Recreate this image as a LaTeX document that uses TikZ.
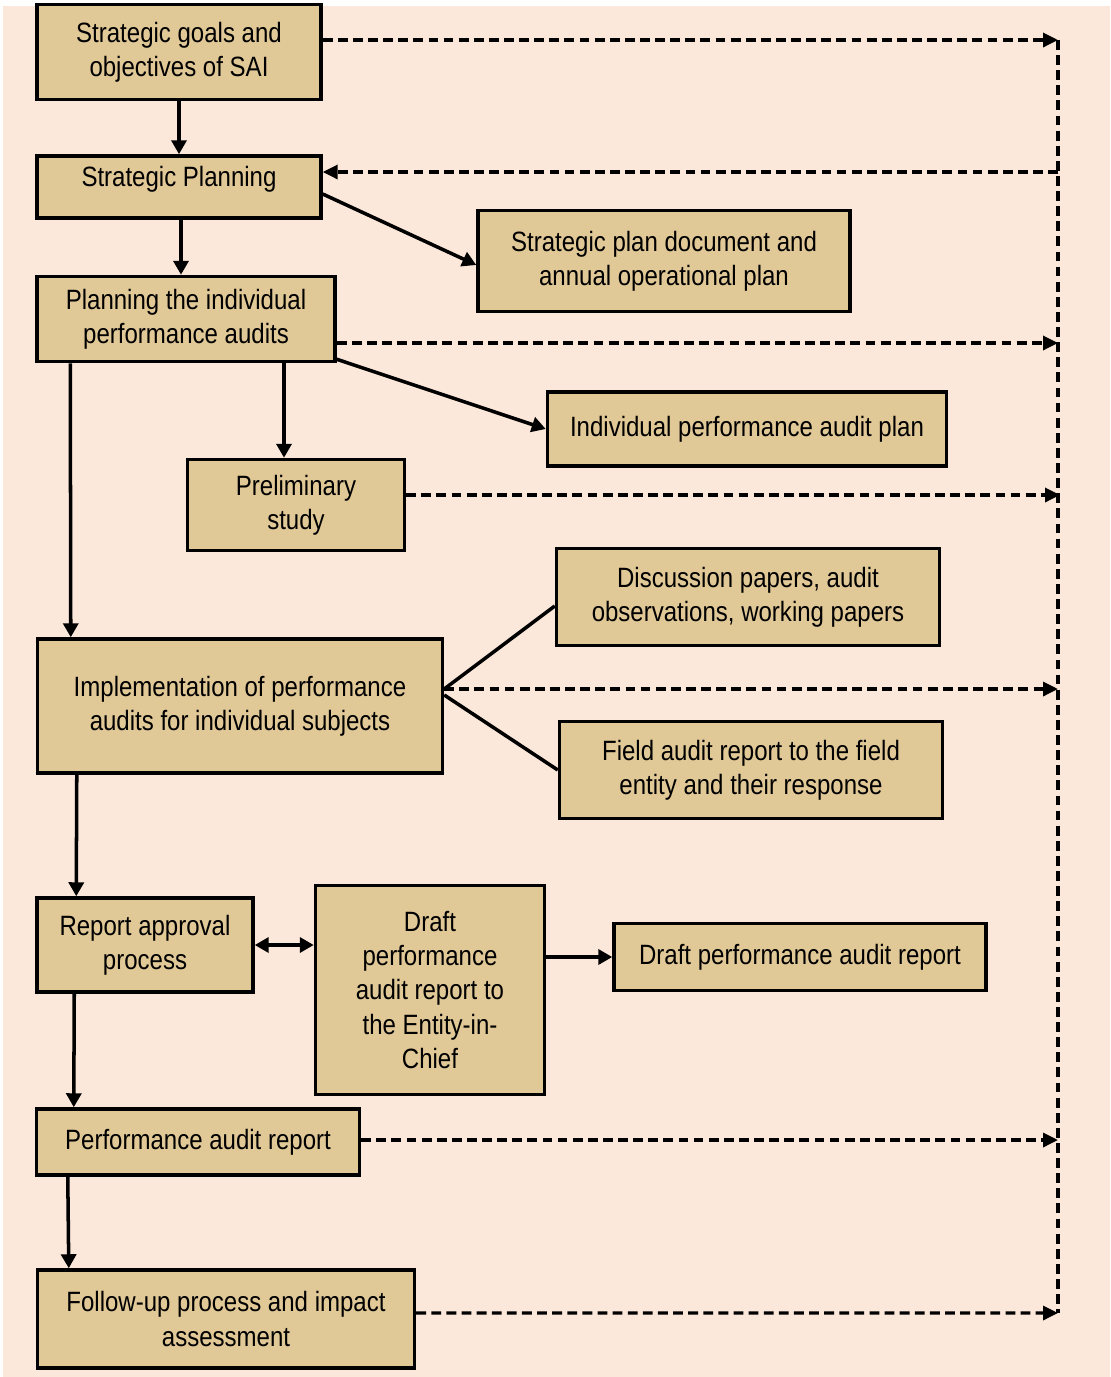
\documentclass[tikz,border=0pt]{standalone}
\usepackage{fontspec}
\setmainfont{Liberation Sans}[FakeStretch=0.86]
\usetikzlibrary{arrows.meta}

\definecolor{pagebg}{RGB}{252,232,218}
\definecolor{boxfill}{RGB}{225,200,151}

\begin{document}
\begin{tikzpicture}[x=0.02cm, y=-0.02cm,
    every node/.style={inner sep=0pt, align=center, font=\fontsize{15.9}{19.6}\selectfont},
    box/.style={draw, fill=boxfill, line width=2pt},
    arrow/.style={line width=2pt, -{Triangle[length=0.28cm, width=0.3cm]}},
    twoway/.style={line width=2pt, {Triangle[length=0.28cm, width=0.3cm]}-{Triangle[length=0.28cm, width=0.3cm]}},
    link/.style={line width=2pt},
    feed/.style={line width=1.9pt, dash pattern=on 5.6pt off 3pt, -{Triangle[length=0.3cm, width=0.28cm]}}]
        \useasboundingbox (0,0) rectangle (1110,1377);
        \fill[pagebg] (3,6) rectangle (1110,1377);

        \node[box, minimum width=5.68cm, minimum height=1.90cm](strat_goals) at (179, 52) {Strategic goals and\\objectives of SAI};
        \node[box, minimum width=5.68cm, text height=0.6cm, text depth=0.64cm](strat_plan) at (179, 187) {Strategic Planning};
        \node[box, minimum width=7.44cm, minimum height=2.02cm](plan_doc) at (664, 261) {Strategic plan document and\\annual operational plan};
        \node[box, minimum width=5.96cm, minimum height=1.70cm](plan_audits) at (186, 319) {Planning the individual\\performance audits};
        \node[box, minimum width=7.98cm, minimum height=1.48cm](audit_plan) at (747, 429) {Individual performance audit plan};
        \node[box, minimum width=4.34cm, minimum height=1.82cm](prelim) at (296, 505) {Preliminary\\study};
        \node[box, minimum width=7.66cm, minimum height=1.94cm](disc_papers) at (748, 597) {Discussion papers, audit\\observations, working papers};
        \node[box, minimum width=8.10cm, minimum height=2.68cm](implement) at (240, 706) {Implementation of performance\\audits for individual subjects};
        \node[box, minimum width=7.66cm, minimum height=1.94cm](field_report) at (751, 770) {Field audit report to the field\\entity and their response};
        \node[box, minimum width=4.32cm, minimum height=1.88cm](approval) at (145, 945) {Report approval\\process};
        \node[box, minimum width=4.58cm, minimum height=4.18cm](draft_chief) at (430, 990) {Draft\\performance\\audit report to\\the Entity-in-\\Chief};
        \node[box, minimum width=7.44cm, minimum height=1.34cm](draft_report) at (800, 957) {Draft performance audit report};
        \node[box, minimum width=6.46cm, minimum height=1.32cm](perf_report) at (198, 1142) {Performance audit report};
        \node[box, minimum width=7.54cm, minimum height=1.96cm](follow_up) at (226, 1319) {Follow-up process and impact\\assessment};

        \coordinate (right_top) at (1058, 40);
        \coordinate (right_bottom) at (1058, 1313);
        \coordinate (impl_hub) at ([yshift=0.34cm]implement.east);

        % main flow
        \draw[arrow] (strat_goals) -- (strat_plan);
        \draw[arrow] ([xshift=0.04cm]strat_plan.south) -- ([xshift=-0.1cm]plan_audits.north);
        \draw[arrow] ([yshift=-0.14cm]strat_plan.east) -- ([yshift=-0.08cm]plan_doc.west);
        \draw[arrow] ([yshift=0.08cm]plan_audits.south east) -- (audit_plan.west);
        \draw[arrow] ([xshift=-0.24cm]prelim.north |- plan_audits.south) -- ([xshift=-0.24cm]prelim.north);
        \draw[arrow] ([xshift=0.7cm]plan_audits.south west) -- ([xshift=0.7cm]implement.north west);
        \draw[link] (impl_hub) -- ([yshift=-0.18cm]disc_papers.west);
        \draw[link] ([yshift=-0.12cm]impl_hub) -- (field_report.west);
        \draw[arrow] ([xshift=0.82cm]implement.south west) -- ([xshift=0.82cm]approval.north west);
        \draw[twoway] (approval.east) -- (approval.east -| draft_chief.west);
        \draw[arrow] (draft_report.west -| draft_chief.east) -- (draft_report.west);
        \draw[arrow] ([xshift=0.78cm]approval.south west) -- ([xshift=0.78cm]perf_report.north west);
        \draw[arrow] ([xshift=0.66cm]perf_report.south west) -- ([xshift=0.66cm]follow_up.north west);

        % feedback line on the right
        \draw[feed, -] (right_top) -- (right_bottom);
        \draw[feed] ([yshift=0.24cm]strat_goals.east) -- ([yshift=0.24cm]strat_goals.east -| right_top);
        \draw[feed] ([yshift=0.3cm]strat_plan.east -| right_top) -- ([yshift=0.3cm]strat_plan.east);
        \draw[feed] ([yshift=-0.48cm]plan_audits.east) -- ([yshift=-0.48cm]plan_audits.east -| right_top);
        \draw[feed] ([yshift=0.2cm]prelim.east) -- ([yshift=0.2cm, xshift=0.04cm]prelim.east -| right_top);
        \draw[feed] (impl_hub) -- (impl_hub -| right_top);
        \draw[feed] ([yshift=0.04cm]perf_report.east) -- ([yshift=0.04cm]perf_report.east -| right_top);
        \draw[feed] ([yshift=0.12cm]follow_up.east) -- (right_bottom);
\end{tikzpicture}
\end{document}
